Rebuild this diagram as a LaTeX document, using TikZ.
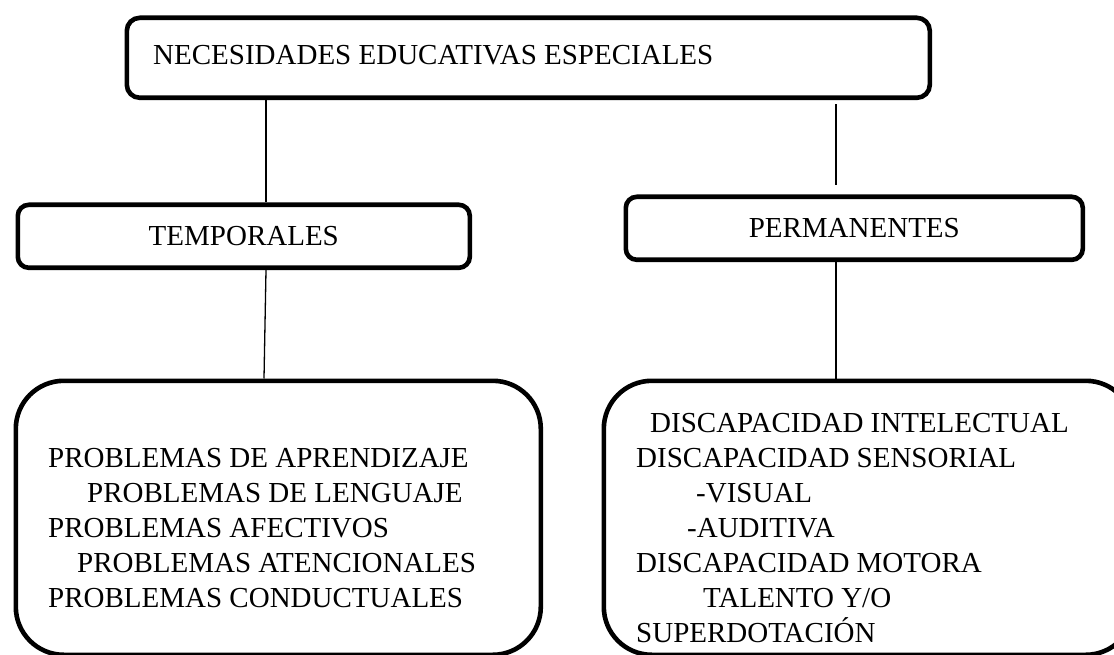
\documentclass[tikz,border=0pt]{standalone}
\usepackage{fontspec}
\setmainfont{Liberation Serif}

\tikzset{
  caja/.style={draw,line width=4.6pt,rounded corners=#1,inner sep=0pt},
  texto/.style={font=\fontsize{29}{35}\selectfont,inner sep=0pt,anchor=base west},
  linea/.style={line width=1.3pt}
}

\begin{document}
\begin{tikzpicture}[x=1pt,y=-1pt]
  \useasboundingbox (0,0) rectangle (1114,655);
  \clip (0,0) rectangle (1114,655);
  \node[caja=13pt,minimum width=803pt,minimum height=80pt,anchor=north west] (nee) at (124.5,15.5) {};
  \node[texto] (titulo) at (153,65) {NECESIDADES EDUCATIVAS ESPECIALES};
  \node[caja=11pt,minimum width=452pt,minimum height=63pt,anchor=north west,font=\fontsize{29}{35}\selectfont] (temp) at (15.5,202.5) {TEMPORALES};
  \node[caja=11pt,minimum width=457pt,minimum height=63pt,anchor=north west,font=\fontsize{29}{35}\selectfont] (perm) at (623.5,194.5) {PERMANENTES};
  \node[caja=48pt,minimum width=525pt,minimum height=274pt,anchor=north west] (probl) at (13.5,378.5) {};
  \node[caja=48pt,minimum width=530pt,minimum height=274pt,anchor=north west] (disc) at (601.5,378.5) {};
  \coordinate (ejeizq) at (266,0);
  \coordinate (ejeder) at (836,0);
  \draw[linea] (nee.south -| ejeizq) -- (temp.north -| ejeizq);
  \draw[linea,shorten <=4pt,shorten >=9pt] (nee.south -| ejeder) -- (perm.north -| ejeder);
  \draw[linea] (temp.south -| ejeizq) -- ([xshift=-2pt]probl.north -| ejeizq);
  \draw[linea] (perm.south -| ejeder) -- (disc.north -| ejeder);
  % temporales
  \node[texto] (p1) at (48,467) {PROBLEMAS DE APRENDIZAJE};
  \node[texto] (p2) at (87,502) {PROBLEMAS DE LENGUAJE};
  \node[texto] (p3) at (48,537) {PROBLEMAS AFECTIVOS};
  \node[texto] (p4) at (77,572) {PROBLEMAS ATENCIONALES};
  \node[texto] (p5) at (48,607) {PROBLEMAS CONDUCTUALES};
  % permanentes
  \node[texto] (d1) at (650,432) {DISCAPACIDAD INTELECTUAL};
  \node[texto] (d2) at (636,467) {DISCAPACIDAD SENSORIAL};
  \node[texto] (d3) at (696,502) {-VISUAL};
  \node[texto] (d4) at (687,537) {-AUDITIVA};
  \node[texto] (d5) at (636,572) {DISCAPACIDAD MOTORA};
  \node[texto] (d6) at (703,607) {TALENTO Y/O};
  \node[texto] (d7) at (636,642) {SUPERDOTACIÓN};
\end{tikzpicture}
\end{document}
